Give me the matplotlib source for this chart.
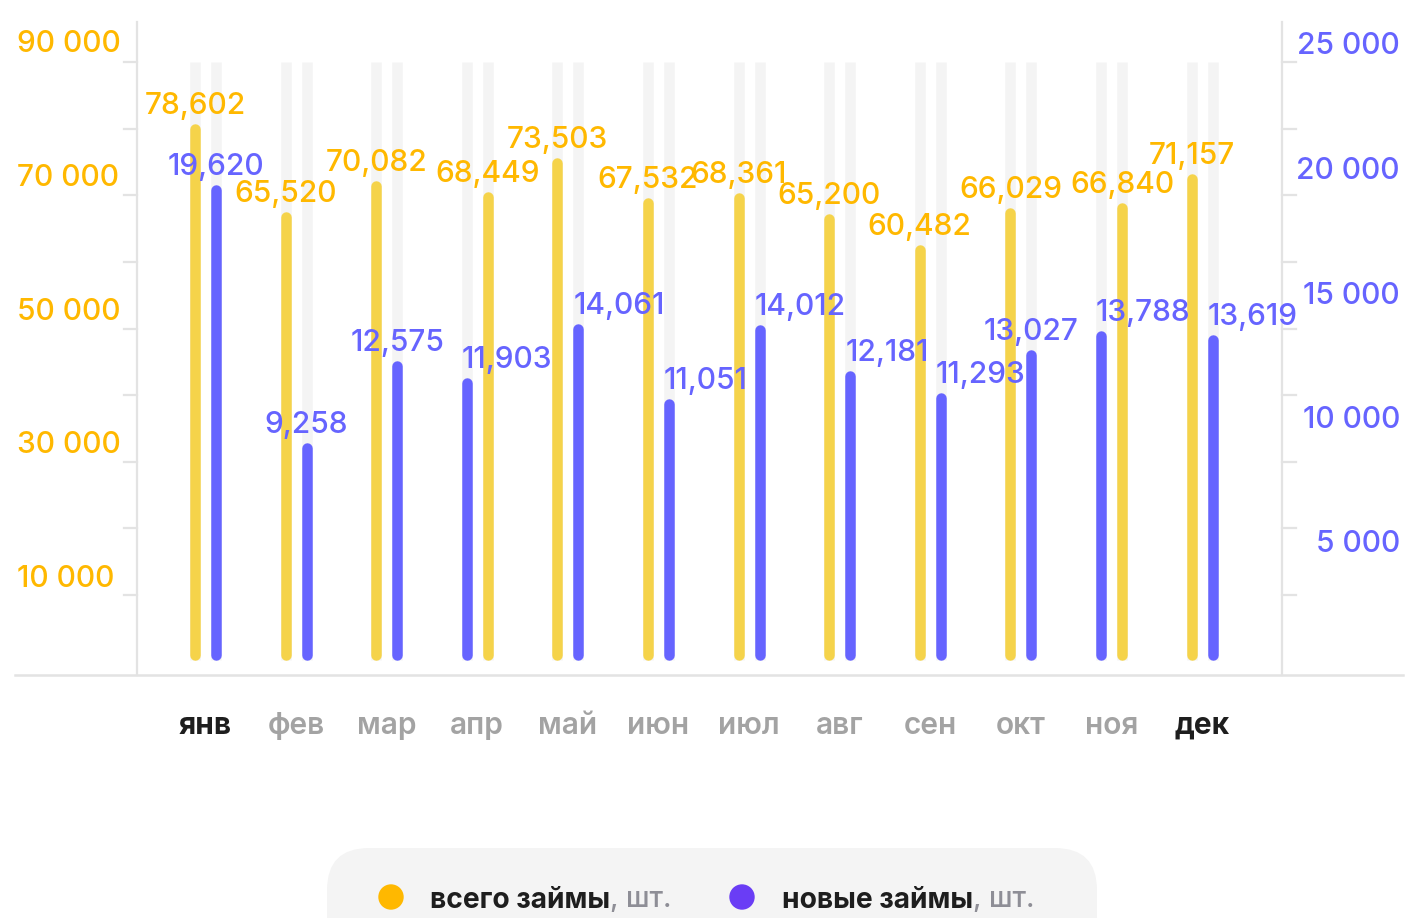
import matplotlib
matplotlib.use("Agg")
import matplotlib.pyplot as plt
from matplotlib.patches import FancyBboxPatch, Circle
from matplotlib.lines import Line2D

# ---------------- data ----------------
months = ["янв", "фев", "мар", "апр", "май", "июн", "июл", "авг", "сен", "окт", "ноя", "дек"]
total_loans = [78602, 65520, 70082, 68449, 73503, 67532, 68361, 65200, 60482, 66029, 66840, 71157]
new_loans = [19620, 9258, 12575, 11903, 14061, 11051, 14012, 12181, 11293, 13027, 13788, 13619]
left_ticks = [10000, 30000, 50000, 70000, 90000]
right_ticks = [5000, 10000, 15000, 20000, 25000]
highlight_months = ["янв", "дек"]
series_names = ["всего займы", "новые займы"]
unit_label = ", шт."

# ---------------- layout / style ----------------
W, H, DPI = 1406, 918, 100
FONT = ["Inter", "DejaVu Sans"]
plt.rcParams["font.family"] = FONT

AX_L, AX_R, AX_T, AX_B = 137, 1282, 22, 675       # axes box in pixels
SLOT0, SLOT_STEP, PAIR_OFF = 205.5, 90.6, 10.5    # month centre spacing (px)
L_ZERO, L_SCALE = 655, 0.00669                    # left axis px mapping
R_ZERO, R_SCALE = 679, 0.0249                     # right axis px mapping
BAR_BASE_PX = 655
STRIPE_TOP_PX, STRIPE_BOT_PX = 62, 660
BAR_LW = 10.5 * 72 / DPI

YEL_BAR, YEL_TXT = "#F5D34A", "#FFB800"
BLU_BAR, BLU_TXT = "#6664FF", "#6664FF"
STRIPE = "#F4F4F4"
AXIS_C = "#E3E3E3"
FS = 21.5
LEG_FS = 20.3
VW = "medium"
# which month has the blue bar on the left slot
blue_left = [False, False, False, True, False, False, False, False, False, False, True, False]
# blue value label placement (centered or starting at the bar)
blue_centered = [True, True, True, False, False, False, False, False, False, True, False, False]

fig = plt.figure(figsize=(W / DPI, H / DPI), dpi=DPI)
ax = fig.add_axes([AX_L / W, 1 - AX_B / H, (AX_R - AX_L) / W, (AX_B - AX_T) / H])
ax2 = ax.twinx()

ax.set_xlim((AX_L - SLOT0) / SLOT_STEP, (AX_R - SLOT0) / SLOT_STEP)
ax.set_ylim((L_ZERO - AX_B) / L_SCALE, (L_ZERO - AX_T) / L_SCALE)
ax2.set_ylim((R_ZERO - AX_B) / R_SCALE, (R_ZERO - AX_T) / R_SCALE)
left_base = (L_ZERO - BAR_BASE_PX) / L_SCALE
right_base = (R_ZERO - BAR_BASE_PX) / R_SCALE

off = PAIR_OFF / SLOT_STEP
n = len(months)
x_yel = [i + (off if blue_left[i] else -off) for i in range(n)]
x_blu = [i + (-off if blue_left[i] else off) for i in range(n)]

# background stripes
ax_h = AX_B - AX_T
for xs in x_yel + x_blu:
    ax.axvline(xs, ymin=(AX_B - STRIPE_BOT_PX) / ax_h, ymax=(AX_B - STRIPE_TOP_PX) / ax_h,
               color=STRIPE, lw=BAR_LW, zorder=0, solid_capstyle="butt")

ax.vlines(x_yel, left_base, total_loans, colors=YEL_BAR, linewidth=BAR_LW,
          capstyle="round", zorder=3)
ax2.vlines(x_blu, right_base, new_loans, colors=BLU_BAR, linewidth=BAR_LW,
           capstyle="round", zorder=3)

# value labels
for i in range(n):
    ax.annotate(f"{total_loans[i]:,}", xy=(x_yel[i], total_loans[i]), xytext=(0, 15),
                textcoords="offset pixels", ha="center", va="baseline",
                color=YEL_TXT, fontsize=FS, fontweight=VW, zorder=5)
for i in range(n):
    if blue_centered[i]:
        dx, ha = 0, "center"
    else:
        dx, ha = -5, "left"
    ax2.annotate(f"{new_loans[i]:,}", xy=(x_blu[i], new_loans[i]), xytext=(dx, 15),
                 textcoords="offset pixels", ha=ha, va="baseline",
                 color=BLU_TXT, fontsize=FS, fontweight=VW, zorder=5)

# axes styling
for a in (ax, ax2):
    a.set_yticks([])
    a.set_xticks([])
    for s in ("top", "bottom"):
        a.spines[s].set_visible(False)
    a.patch.set_visible(False)
for a, side in ((ax, "left"), (ax2, "right")):
    for s in ("left", "right"):
        a.spines[s].set_visible(s == side)
    a.spines[side].set_color(AXIS_C)
    a.spines[side].set_linewidth(1.6)

fmt = lambda v: f"{v:,}".replace(",", " ")
for v in left_ticks:
    ax.annotate(fmt(v), xy=(0, v), xycoords=ax.get_yaxis_transform(),
                xytext=(17 - AX_L, 9), textcoords="offset pixels",
                ha="left", va="center", color=YEL_TXT, fontsize=FS, fontweight=VW)
for v in right_ticks:
    ax2.annotate(fmt(v), xy=(1, v), xycoords=ax2.get_yaxis_transform(),
                 xytext=(1400 - AX_R, 10), textcoords="offset pixels",
                 ha="right", va="center", color=BLU_TXT, fontsize=FS, fontweight=VW)

# small tick marks (decorative grid marks)
ax_w = AX_R - AX_L
for k in range(9):
    py = 595 - k * 66.625
    yf = (AX_B - py) / ax_h
    ax.add_line(Line2D([-13 / ax_w, 0], [yf, yf], transform=ax.transAxes,
                       clip_on=False, color=AXIS_C, lw=1.6))
    ax.add_line(Line2D([1, 1 + 14 / ax_w], [yf, yf], transform=ax.transAxes,
                       clip_on=False, color=AXIS_C, lw=1.6))

# baseline
fig.add_artist(Line2D([15 / W, 1403 / W], [1 - AX_B / H, 1 - AX_B / H],
                      transform=fig.transFigure, color=AXIS_C, lw=1.8))

# month labels
for i, m in enumerate(months):
    hl = m in highlight_months
    ax.annotate(m, xy=(i, 0), xycoords=ax.get_xaxis_transform(),
                xytext=(0, -(726 - AX_B)), textcoords="offset pixels",
                ha="center", va="center", fontsize=FS,
                color="#1E1E1E" if hl else "#A3A3A3",
                fontweight="bold" if hl else "semibold")

# legend box
inch = fig.dpi_scale_trans
fig.add_artist(FancyBboxPatch((327 / DPI, (H - 960) / DPI), (1097 - 327) / DPI, (960 - 848) / DPI,
                              boxstyle="round,pad=0,rounding_size=0.42",
                              transform=inch, facecolor="#F4F4F4", edgecolor="none"))
leg_y = (H - 897) / DPI
base_y = leg_y - 0.105
name_texts = []
for cx, col, tx, name in ((391, "#FFB800", 430, series_names[0]),
                          (742, "#6A3DF5", 782, series_names[1])):
    fig.add_artist(Circle((cx / DPI, leg_y), 0.12, transform=inch, color=col))
    t = fig.text(tx / DPI, base_y, name, transform=inch, ha="left", va="baseline",
                 fontsize=LEG_FS, fontweight="bold", color="#1E1E1E")
    name_texts.append(t)

fig.canvas.draw()
renderer = fig.canvas.get_renderer()
for t in name_texts:
    bb = t.get_window_extent(renderer)
    fig.text(bb.x1 / DPI, base_y, unit_label, transform=inch,
             ha="left", va="baseline", fontsize=LEG_FS, fontweight=VW, color="#8E8E96")

fig.savefig("out.png", dpi=DPI, facecolor="white")
